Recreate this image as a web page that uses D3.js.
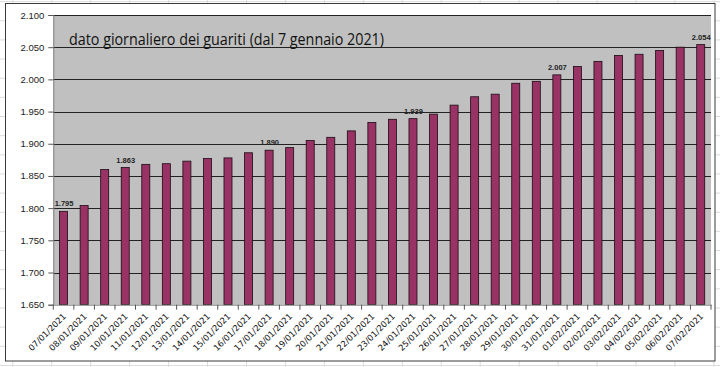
<!DOCTYPE html>
<html>
<head>
<meta charset="utf-8">
<script src="https://cdn.jsdelivr.net/npm/d3@7/dist/d3.min.js"></script>
<style>
  html, body { margin: 0; padding: 0; background: #fff; }
  svg { display: block; }
</style>
</head>
<body>
<svg id="chart" width="720" height="367"></svg>
<script>
const dates = ["07/01/2021","08/01/2021","09/01/2021","10/01/2021","11/01/2021","12/01/2021","13/01/2021","14/01/2021","15/01/2021","16/01/2021","17/01/2021","18/01/2021","19/01/2021","20/01/2021","21/01/2021","22/01/2021","23/01/2021","24/01/2021","25/01/2021","26/01/2021","27/01/2021","28/01/2021","29/01/2021","30/01/2021","31/01/2021","01/02/2021","02/02/2021","03/02/2021","04/02/2021","05/02/2021","06/02/2021","07/02/2021"];
const guariti = [1795,1804,1860,1863,1868,1869,1873,1877,1878,1886,1890,1894,1905,1910,1920,1933,1938,1939,1946,1960,1973,1977,1994,1997,2007,2020,2028,2037,2039,2045,2050,2054];
const labeledDates = ["07/01/2021","10/01/2021","17/01/2021","24/01/2021","31/01/2021","07/02/2021"];
const yTicks = [1650,1700,1750,1800,1850,1900,1950,2000,2050,2100];
const yDomain = [1650, 2100];
const title = "dato giornaliero dei guariti (dal 7 gennaio 2021)";

const it = d3.formatLocale({decimal: ",", thousands: ".", grouping: [3], currency: ["€", ""]});
const fmt = it.format(",");

const svg = d3.select("#chart");
const W = 720, H = 367;
const plot = {left: 53.3, right: 711, top: 15, bottom: 304.7};

// spreadsheet cell grid in background
const bg = svg.append("g");
for (let x = 12.8; x < W; x += 38.95) {
  bg.append("line").attr("x1", x).attr("x2", x).attr("y1", 0).attr("y2", H)
    .attr("stroke", "#dcdcdc").attr("stroke-width", 1);
}
for (let y = 1.6; y < H; y += 19.15) {
  bg.append("line").attr("x1", 0).attr("x2", W).attr("y1", y).attr("y2", y)
    .attr("stroke", "#dcdcdc").attr("stroke-width", 1);
}

// chart frame
svg.append("rect").attr("x", 5.5).attr("y", 3.5).attr("width", 709.5).attr("height", 357.5)
  .attr("fill", "#fff").attr("stroke", "#3a3a3a").attr("stroke-width", 1);

const x = d3.scaleBand().domain(dates).range([plot.left, plot.right])
  .paddingInner(0.61).paddingOuter(0.305);
const y = d3.scaleLinear().domain(yDomain).range([plot.bottom, plot.top]);

// plot area
svg.append("rect").attr("x", plot.left).attr("y", plot.top)
  .attr("width", plot.right - plot.left).attr("height", plot.bottom - plot.top)
  .attr("fill", "#c0c0c0");

// gridlines
svg.append("g").selectAll("line").data(yTicks.filter(v => v > yDomain[0])).join("line")
  .attr("x1", plot.left).attr("x2", plot.right)
  .attr("y1", d => Math.round(y(d)) + 0.5).attr("y2", d => Math.round(y(d)) + 0.5)
  .attr("stroke", "#222").attr("stroke-width", 1.1);

// title
svg.append("text").attr("x", 69).attr("y", 44.5)
  .attr("font-family", "'Open Sans', 'Liberation Sans', sans-serif")
  .attr("font-size", 16).attr("fill", "#111")
  .attr("textLength", 315).attr("lengthAdjust", "spacingAndGlyphs")
  .text(title);

// bars
svg.append("g").selectAll("rect").data(dates).join("rect")
  .attr("x", d => x(d)).attr("width", x.bandwidth())
  .attr("y", (d, i) => y(guariti[i])).attr("height", (d, i) => y(yDomain[0]) - y(guariti[i]))
  .attr("fill", "#993366").attr("stroke", "#1a0a12").attr("stroke-width", 0.8);

// data labels
svg.append("g").selectAll("text").data(dates.map((d, i) => ({d, v: guariti[i]})).filter(o => labeledDates.includes(o.d)))
  .join("text")
  .attr("x", o => x(o.d) + x.bandwidth() / 2 + 0.5).attr("y", o => y(o.v) - 5)
  .attr("text-anchor", "middle")
  .attr("font-family", "'Liberation Sans', Arial, sans-serif")
  .attr("font-size", 7.5).attr("font-weight", "bold").attr("fill", "#222")
  .text(o => fmt(o.v));

// y axis
const yAxis = d3.axisLeft(y).tickValues(yTicks).tickFormat(fmt).tickSize(5).tickPadding(4);
const gy = svg.append("g").attr("transform", `translate(${plot.left},0)`).call(yAxis);
gy.select(".domain").attr("stroke", "#808080");
gy.selectAll(".tick line").attr("stroke", "#555");
gy.selectAll(".tick text").attr("font-family", "'Liberation Sans', Arial, sans-serif")
  .attr("font-size", 9.5).attr("fill", "#222");

// x axis
const xAxis = d3.axisBottom(x).tickSize(0).tickPadding(0);
const gx = svg.append("g").attr("transform", `translate(0,${plot.bottom})`).call(xAxis);
gx.select(".domain").attr("stroke", "#808080");
// ticks at band boundaries
const step = x.step();
const bounds = dates.map(d => x(d) - (step - x.bandwidth()) / 2).concat([plot.right]);
gx.selectAll(".bnd").data(bounds).join("line").attr("class", "bnd")
  .attr("x1", d => d).attr("x2", d => d).attr("y1", 0).attr("y2", 5)
  .attr("stroke", "#555");
gx.selectAll(".tick text")
  .attr("font-family", "'DejaVu Sans', Verdana, sans-serif")
  .attr("font-size", 8.5).attr("fill", "#111")
  .attr("text-anchor", "end")
  .attr("dy", "0.35em")
  .attr("transform", "translate(1,10) rotate(-45)");
</script>
</body>
</html>
